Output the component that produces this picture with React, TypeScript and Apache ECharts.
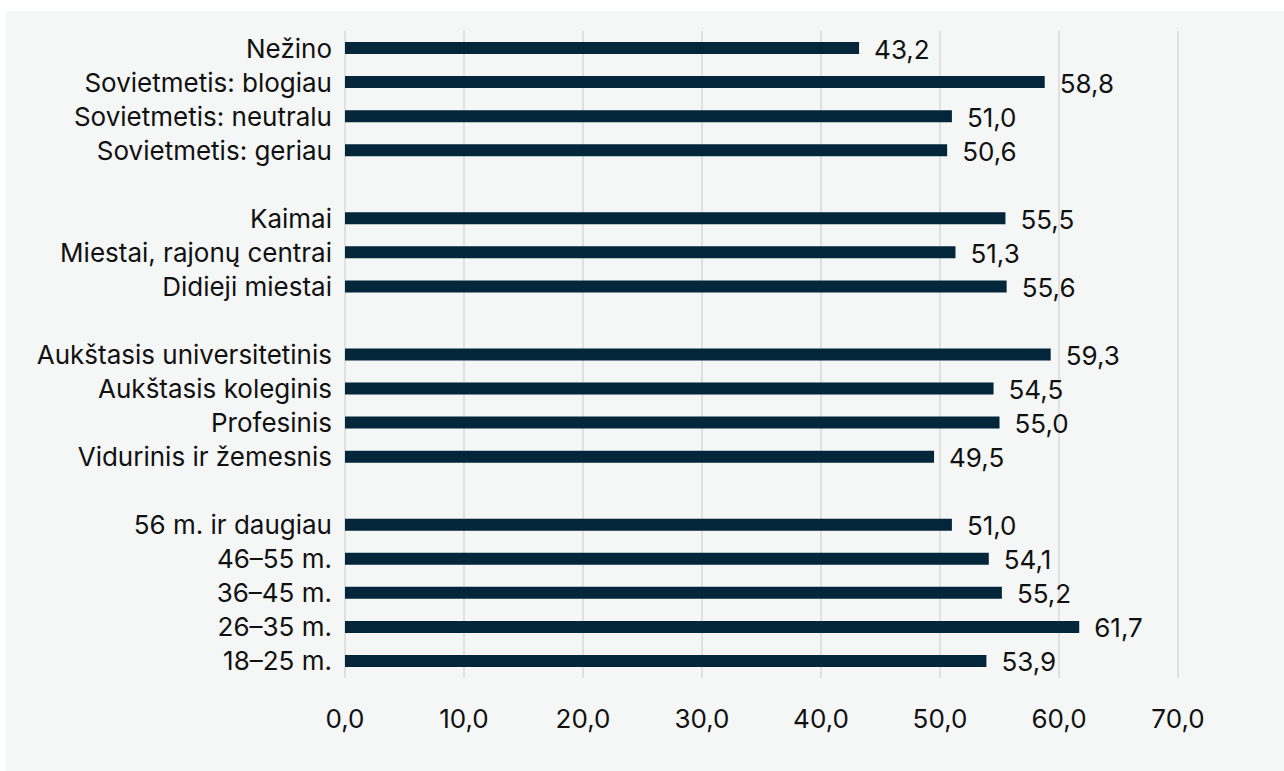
import React, { useEffect, useRef } from "react";
import * as echarts from "echarts";

const categories = [
  "Nežino",
  "Sovietmetis: blogiau",
  "Sovietmetis: neutralu",
  "Sovietmetis: geriau",
  " ",
  "Kaimai",
  "Miestai, rajonų centrai",
  "Didieji miestai",
  "  ",
  "Aukštasis universitetinis",
  "Aukštasis koleginis",
  "Profesinis",
  "Vidurinis ir žemesnis",
  "   ",
  "56 m. ir daugiau",
  "46–55 m.",
  "36–45 m.",
  "26–35 m.",
  "18–25 m.",
];

const values: (number | null)[] = [
  43.2, 58.8, 51.0, 50.6, null, 55.5, 51.3, 55.6, null, 59.3, 54.5, 55.0, 49.5, null, 51.0, 54.1, 55.2, 61.7, 53.9,
];

const xMin = 0;
const xMax = 70;
const xInterval = 10;

const fmt = (v: number) => v.toFixed(1).replace(".", ",");

export default function App() {
  const ref = useRef<HTMLDivElement>(null);
  useEffect(() => {
    if (!ref.current) return;
    const chart = echarts.init(ref.current, null, { renderer: "svg" });
    const font = "Inter, 'Noto Sans', sans-serif";
    const fs = 26;
    chart.setOption({
      animation: false,
      backgroundColor: "#f5f7f7",
      textStyle: { fontFamily: font },
      grid: { left: 339, top: 20, width: 833, height: 647, containLabel: false },
      xAxis: {
        type: "value",
        min: xMin,
        max: xMax,
        interval: xInterval,
        axisLine: { show: false },
        axisTick: { show: false },
        splitLine: { show: true, lineStyle: { color: "#d9d9d9", width: 1.5 } },
        axisLabel: {
          color: "#111111",
          fontSize: fs,
          fontFamily: font,
          margin: 27,
          formatter: (v: number) => fmt(v),
        },
      },
      yAxis: {
        type: "category",
        inverse: true,
        data: categories,
        axisLine: { show: false },
        axisTick: { show: false },
        splitLine: { show: false },
        axisLabel: { color: "#111111", fontSize: fs, fontFamily: font, margin: 13 },
      },
      series: [
        {
          type: "bar",
          data: values,
          barWidth: 12,
          itemStyle: { color: "#03263a" },
          label: {
            show: true,
            position: "right",
            distance: 15,
            color: "#111111",
            fontSize: fs,
            fontFamily: font,
            offset: [0, 1],
            formatter: (p: any) => (p.value == null ? "" : fmt(p.value)),
          },
        },
      ],
    });
    return () => chart.dispose();
  }, []);
  return (
    <div style={{ position: "absolute", left: 0, top: 0, width: 1284, height: 771, background: "#ffffff" }}>
      <div ref={ref} style={{ position: "absolute", left: 6, top: 11, width: 1278, height: 760 }} />
    </div>
  );
}
